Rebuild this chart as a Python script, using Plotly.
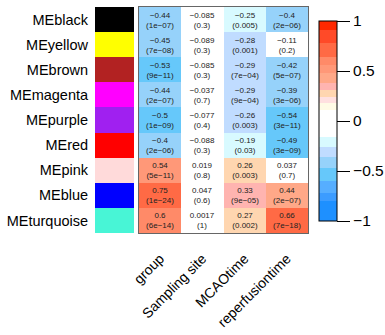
import plotly.graph_objects as go

modules = ["MEblack", "MEyellow", "MEbrown", "MEmagenta", "MEpurple",
           "MEred", "MEpink", "MEblue", "MEturquoise"]
module_colors = ["#000000", "#FFFF00", "#B22222", "#FF00FF", "#A020F0",
                 "#FF0000", "#FFDADA", "#0000FF", "#48F5D6"]
traits = ["group", "Sampling site", "MCAOtime", "reperfusiontime"]

cor = [
    [-0.44, -0.085, -0.25, -0.4],
    [-0.45, -0.089, -0.28, -0.11],
    [-0.53, -0.085, -0.29, -0.42],
    [-0.44, -0.037, -0.29, -0.39],
    [-0.5, -0.077, -0.26, -0.54],
    [-0.4, -0.088, -0.19, -0.49],
    [0.54, 0.019, 0.26, 0.037],
    [0.75, 0.047, 0.33, 0.44],
    [0.6, 0.0017, 0.27, 0.66],
]
pvals = [
    ["1e-07", "0.3", "0.005", "2e-06"],
    ["7e-08", "0.3", "0.001", "0.2"],
    ["9e-11", "0.3", "7e-04", "5e-07"],
    ["2e-07", "0.7", "9e-04", "3e-06"],
    ["1e-09", "0.4", "0.003", "3e-11"],
    ["2e-06", "0.3", "0.03", "3e-09"],
    ["5e-11", "0.8", "0.003", "0.7"],
    ["1e-24", "0.6", "9e-05", "2e-07"],
    ["6e-14", "1", "0.002", "7e-18"],
]

# stepped blue-white-red palette (value range -> colour)
bands = [
    (-1.0, -0.8, "#1E90FF"), (-0.8, -0.72, "#3C9CFF"), (-0.72, -0.6, "#56AEFF"),
    (-0.6, -0.47, "#66C8FA"), (-0.47, -0.36, "#96D2FA"), (-0.36, -0.255, "#C0DCFF"),
    (-0.255, -0.16, "#D8FAFF"), (-0.16, 0.11, "#FFFFFF"), (0.11, 0.18, "#FFFBE6"),
    (0.18, 0.24, "#FFE0E0"), (0.24, 0.31, "#FFD6B0"), (0.31, 0.38, "#FFB4B0"),
    (0.38, 0.48, "#FFA888"), (0.48, 0.56, "#FF9878"), (0.56, 0.64, "#FF8A68"),
    (0.64, 0.78, "#FF6A45"), (0.78, 0.91, "#FF4A28"), (0.91, 1.0, "#FF2800"),
]
colorscale = []
for lo, hi, c in bands:
    colorscale.append([(lo + 1) / 2, c])
    colorscale.append([(hi + 1) / 2, c])


def fmt(v):
    s = f"{v:g}"
    return s.replace("-", "\u2212")


text = [[f"{fmt(cor[i][j])}<br>({pvals[i][j].replace('-', chr(0x2212))})"
         for j in range(len(traits))] for i in range(len(modules))]

W, H = 385, 335
def px_x(a): return a / W
def px_y(b): return 1 - b / H

fig = go.Figure()

fig.add_trace(go.Heatmap(
    z=cor, x=traits, y=modules, zmin=-1, zmax=1, colorscale=colorscale,
    text=text, texttemplate="%{text}",
    textfont=dict(size=8, color="#222222", family="Liberation Sans, Arial"),
    hoverinfo="skip", xgap=0, ygap=0,
    colorbar=dict(
        x=px_x(319), xanchor="left", xpad=0,
        y=px_y(121), yanchor="middle", ypad=0,
        len=200, lenmode="pixels", thickness=18, thicknessmode="pixels",
        outlinewidth=1, outlinecolor="#000000",
        ticks="outside", ticklen=13, tickcolor="#000000", tickwidth=1,
        tickvals=[-1, -0.5, 0, 0.5, 1],
        ticktext=["\u22121", "\u22120.5", "0", "0.5", "1"],
        tickfont=dict(size=15.5, color="#000000", family="Liberation Sans, Arial"),
    ),
    xaxis="x", yaxis="y",
))

fig.add_trace(go.Heatmap(
    z=[[i] for i in range(len(modules))], x=[0], y=modules,
    zmin=0, zmax=len(modules) - 1,
    colorscale=[[i / (len(modules) - 1), c] for i, c in enumerate(module_colors)],
    showscale=False, hoverinfo="skip",
    xaxis="x2", yaxis="y2",
))

fig.update_layout(
    width=W, height=H,
    margin=dict(l=0, r=0, t=0, b=0),
    paper_bgcolor="white", plot_bgcolor="white",
    font=dict(family="Liberation Sans, Arial", color="#000000"),
    xaxis=dict(domain=[px_x(139), px_x(308)], anchor="y",
               tickangle=-45, ticks="outside", ticklen=11, tickcolor="rgba(0,0,0,0)",
               tickfont=dict(size=14), showline=True, mirror=True,
               linecolor="#666666", linewidth=1, automargin=False, showgrid=False),
    yaxis=dict(domain=[px_y(233), px_y(7)], anchor="x", autorange="reversed",
               showticklabels=False, showline=True, mirror=True,
               linecolor="#666666", linewidth=1, automargin=False, showgrid=False),
    xaxis2=dict(domain=[px_x(95), px_x(134)], anchor="y2", showticklabels=False,
                showgrid=False, zeroline=False, automargin=False),
    yaxis2=dict(domain=[px_y(233), px_y(7)], anchor="x2", autorange="reversed",
                tickfont=dict(size=14.5), showgrid=False, automargin=False,
                ticks="outside", ticklen=3, tickcolor="rgba(0,0,0,0)"),
)

fig.write_html("out.html")
